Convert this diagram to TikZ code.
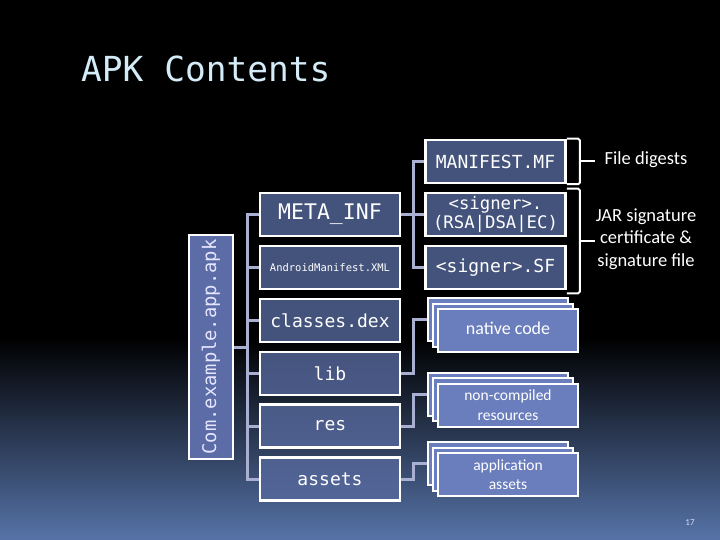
\documentclass[tikz,border=0pt]{standalone}
\usepackage{fontspec}
\setmonofont{DejaVu Sans Mono}
\newfontfamily\calib{Carlito}
\usetikzlibrary{calc}
\definecolor{bgb}{HTML}{5673A8}
\definecolor{boxfill}{HTML}{56689C}
\definecolor{stackfill}{HTML}{6A7EBD}
\definecolor{apkfill}{HTML}{5B6CA6}
\definecolor{conncol}{HTML}{A9AFD0}
\definecolor{titlecol}{HTML}{D4ECF8}
\tikzset{
  box/.style={draw=white, line width=2.5pt, fill=boxfill, fill opacity=0.8, text opacity=1,
    text=white, minimum width=140pt, minimum height=43pt, inner sep=1pt, align=center,
    font=\ttfamily\fontsize{18}{19}\selectfont},
  stackbox/.style={draw=white, line width=2pt, fill=stackfill, text=white,
    minimum width=140pt, minimum height=43pt, inner sep=1pt, align=center,
    font=\calib\fontsize{15.5}{19.5}\selectfont},
  conn/.style={draw=conncol, line width=3pt},
  br/.style={draw=white, line width=2pt, rounded corners=1.5pt},
  lbl/.style={text=white, align=center, font=\calib\fontsize{18.5}{22.5}\selectfont}
}
\begin{document}
\begin{tikzpicture}[x=1pt,y=-1pt]
\useasboundingbox (0,0) rectangle (720,540);
\fill[black] (0,0) rectangle (720,540);
\shade[top color=black, bottom color=bgb] (0,338) rectangle (720,540);

\node[anchor=base west, text=titlecol, font=\ttfamily\fontsize{34.5}{37}\selectfont, inner sep=0pt] (title) at (81,82) {APK Contents};

% apk vertical box
\node[draw=white, line width=2.5pt, fill=apkfill, text=white!90!blue, minimum width=224pt, minimum height=44pt,
  rotate=90, font=\ttfamily\fontsize{18.8}{20}\selectfont, inner sep=1pt] (apk) at (211,347) {Com.example.app.apk};

% main column
\node[box, font=\ttfamily\fontsize{21.5}{23}\selectfont] (meta) at (330,214.5) {META\_INF};
\node[box, font=\ttfamily\fontsize{10.5}{12}\selectfont] (am) at (330,267.5) {AndroidManifest.XML};
\node[box] (cls) at (330,320.5) {classes.dex};
\node[box] (lib) at (330,373.5) {lib};
\node[box] (res) at (330,426) {res};
\node[box] (ast) at (330,479) {assets};

% META_INF column
\node[box] (mf) at (495.5,161.5) {MANIFEST.MF};
\node[box, font=\ttfamily\fontsize{17.3}{19}\selectfont] (rsa) at (495.5,214.5) {<signer>.\\(RSA|DSA|EC)};
\node[box] (sf) at (495.5,267.5) {<signer>.SF};

% stacks
\node[stackbox] (n1) at (498,319.5) {};
\node[stackbox] (n2) at (503,325) {};
\node[stackbox, font=\calib\fontsize{18}{20}\selectfont, text depth=4pt] (n3) at (508,330.5) {native code};
\node[stackbox] (r1) at (498,394) {};
\node[stackbox] (r2) at (503,399.5) {};
\node[stackbox] (r3) at (508,405) {non-compiled\\resources};
\node[stackbox] (a1) at (498,463.5) {};
\node[stackbox] (a2) at (503,469) {};
\node[stackbox] (a3) at (508,474.5) {application\\assets};

% trunk connectors
\coordinate (t) at (247,0);
\coordinate (u) at (413,0);
\draw[conn] (apk.south) -- (apk.south -| t);
\draw[conn, line cap=rect] (meta.west -| t) -- (ast.west -| t);
\foreach \n in {meta,am,cls,lib,res,ast}{
  \draw[conn] (\n.west -| t) -- (\n.west);
}
\draw[conn] (meta.east) -- (meta.east -| u);
\draw[conn, line cap=rect] (mf.west -| u) -- (sf.west -| u);
\foreach \n in {mf,rsa,sf}{
  \draw[conn] (\n.west -| u) -- (\n.west);
}
\draw[conn] (lib.east) -- (lib.east -| u) |- (n1.west);
\draw[conn] (res.east) -- (res.east -| u) |- (r1.west);
\draw[conn] (ast.east) -- (ast.east -| u) |- (a1.west);

% brackets
\draw[br] (mf.north east) -- ($(mf.north east)+(13,0)$) -- ($(mf.south east)+(13,0)$) -- (mf.south east);
\coordinate (b1) at ($(mf.east)+(13,0)$);
\draw[white, line width=2pt] (b1) -- ++(15,0);
\draw[br] ($(rsa.north east)+(0,-3)$) -- ($(rsa.north east)+(13,-3)$) -- ($(sf.south east)+(13,3)$) -- ($(sf.south east)+(0,3)$);
\coordinate (b2) at ($(rsa.north east)!0.5!(sf.south east)+(13,0)$);
\draw[white, line width=2pt] (b2) -- ++(15,0);

\node[lbl] (fd) at (646,160) {File digests};
\node[lbl] (jar) at (646,239) {JAR signature\\certificate \&\\signature file};

\node[text=white!85!blue, font=\calib\fontsize{9}{10}\selectfont] (pg) at (690,523) {17};
\end{tikzpicture}
\end{document}
